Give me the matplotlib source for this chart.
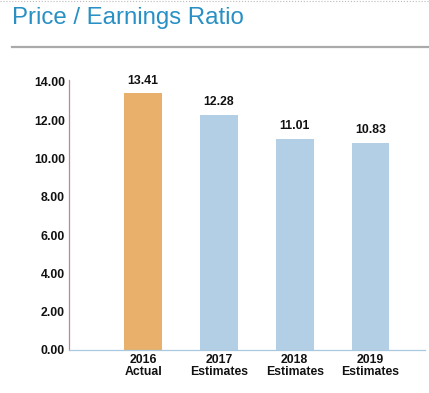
import matplotlib.pyplot as plt
from matplotlib.lines import Line2D

# data
years = ['2016\nActual', '2017\nEstimates', '2018\nEstimates', '2019\nEstimates']
pe = [13.41, 12.28, 11.01, 10.83]
colors = ['#E8B06A', '#B3CFE5', '#B3CFE5', '#B3CFE5']
yticks = [0, 2, 4, 6, 8, 10, 12, 14]

plt.rcParams['font.family'] = ['Liberation Sans', 'DejaVu Sans']

fig = plt.figure(figsize=(4.29, 3.93), dpi=100)

# header
fig.text(12 / 429, 1 - 24 / 393, 'Price / Earnings Ratio', fontsize=17.3,
         color='#2890C4', ha='left', va='baseline')
fig.add_artist(Line2D([12 / 429, 1], [1 - 47 / 393] * 2, color='#AAAAAA', lw=1.6))
fig.add_artist(Line2D([0, 1], [1 - 1 / 393] * 2, color='#BBBBBB', lw=0.8, ls=':'))

ax = fig.add_axes([69 / 429, 43 / 393, 356 / 429, 270 / 393])
x = range(len(years))
bars = ax.bar(x, pe, width=0.5, color=colors)
for b, v in zip(bars, pe):
    ax.text(b.get_x() + b.get_width() / 2, v + 0.35, f'{v:.2f}', ha='center',
            va='bottom', fontsize=8.8, fontweight='bold', color='#111111')

ax.set_xlim(-0.98, 3.72)
ax.set_ylim(0, 14.1)
ax.set_yticks(yticks)
ax.set_yticklabels([f'{t:.2f}' for t in yticks], fontsize=8.8, fontweight='bold')
ax.set_xticks(list(x))
ax.set_xticklabels(years, fontsize=8.8, fontweight='bold', linespacing=1.0)
ax.tick_params(axis='both', length=0, pad=3, colors='#111111')

for s in ['top', 'right']:
    ax.spines[s].set_visible(False)
ax.spines['left'].set_color('#C080A8')
ax.spines['bottom'].set_color('#A8C8E0')
ax.spines['left'].set_linewidth(0.9)
ax.spines['bottom'].set_linewidth(0.9)

fig.savefig('out.png', dpi=100)
